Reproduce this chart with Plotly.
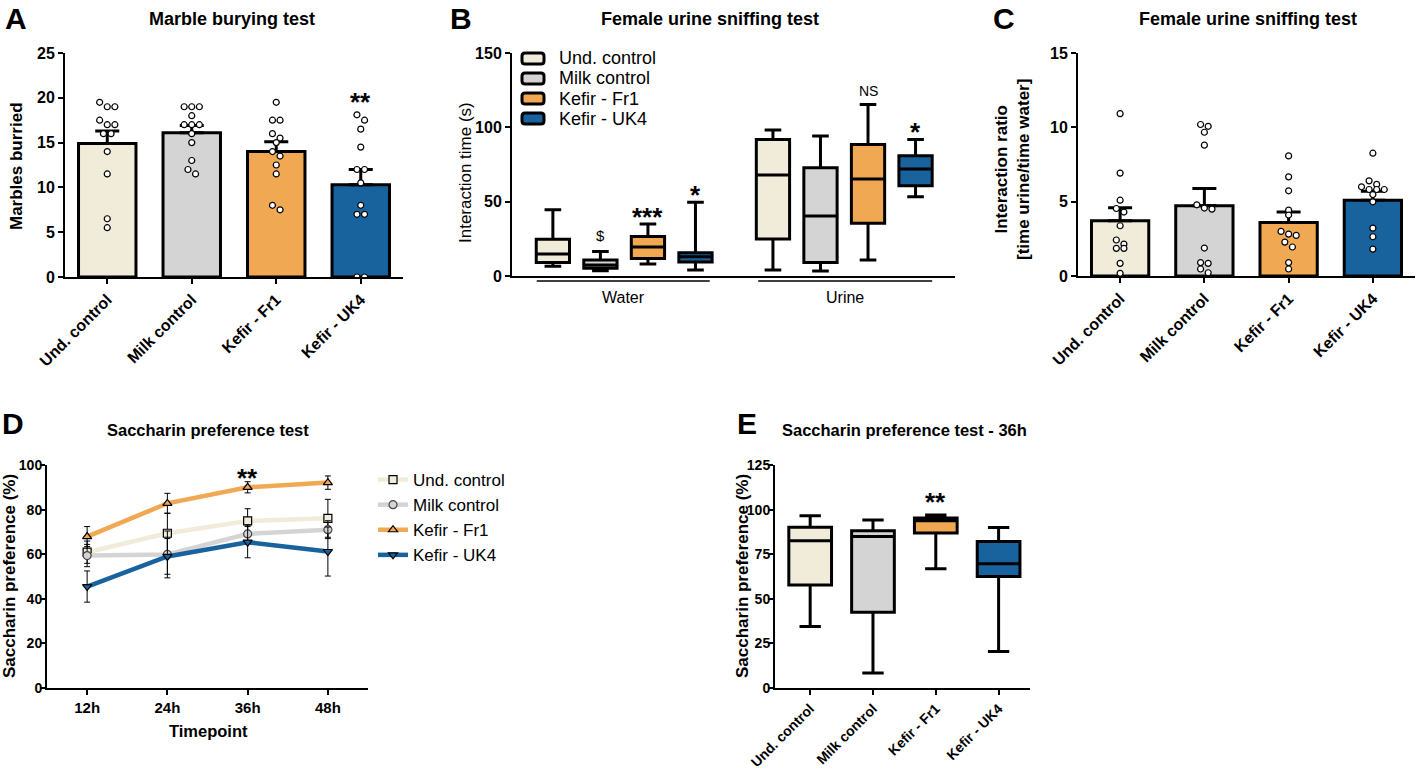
import plotly.graph_objects as go

W, H = 1418, 777

# ---------------- data ----------------
groups = ["Und. control", "Milk control", "Kefir - Fr1", "Kefir - UK4"]

# Panel A - marble burying (individual animals, mean, SEM)
marbles_und = [19.5, 19, 19, 17.5, 17, 17, 16, 16, 14, 11.5, 6.5, 5.5]
marbles_milk = [19, 19, 19, 18, 17, 17, 17, 16, 15, 13, 12, 11.5]
marbles_fr1 = [19.5, 17.5, 17.5, 16, 15.5, 15, 14, 13.5, 12.5, 11.5, 8, 7.5]
marbles_uk4 = [18.1, 17.5, 16.5, 14.5, 12, 12, 10.5, 8, 7, 7, 0, 0]
marbles_mean = [14.9, 16.1, 14.0, 10.3]
marbles_sem = [1.4, 0.8, 1.1, 1.7]
marbles_sig = ["", "", "", "**"]

# Panel B - interaction time (box: min, q1, median, q3, max)
water_min = [6.5, 3.6, 8.1, 4.0]
water_q1 = [9.0, 5.2, 11.7, 9.4]
water_med = [14.8, 7.4, 19.5, 13.0]
water_q3 = [24.7, 10.8, 26.5, 15.7]
water_max = [44.5, 16.4, 35.0, 49.6]
water_sig = ["", "$", "***", "*"]
urine_min = [4.0, 3.4, 10.8, 53.3]
urine_q1 = [24.9, 9.0, 35.4, 60.7]
urine_med = [67.9, 40.3, 65.2, 72.0]
urine_q3 = [91.9, 72.8, 88.5, 80.9]
urine_max = [98.2, 94.1, 115.4, 91.9]
urine_sig = ["", "", "NS", "*"]

# Panel C - interaction ratio
ratio_und = [10.92, 6.92, 5.1, 4.54, 4.3, 3.38, 2.42, 2.15, 1.86, 1.86, 0.85, 0.18]
ratio_milk = [10.19, 10.07, 9.67, 8.8, 4.79, 4.57, 4.5, 1.88, 0.9, 0.85, 0.47, 0.22]
ratio_fr1 = [8.08, 6.67, 5.73, 4.43, 4.1, 3.0, 2.82, 2.73, 2.28, 1.95, 0.9, 0.47]
ratio_uk4 = [8.26, 6.4, 6.16, 6.0, 5.82, 5.82, 5.82, 5.48, 4.99, 3.22, 2.64, 1.81]
ratio_mean = [3.72, 4.72, 3.6, 5.1]
ratio_sem = [0.87, 1.17, 0.7, 0.6]

# Panel D - saccharin preference over time (mean, SEM)
timepoints = ["12h", "24h", "36h", "48h"]
sacch_und = [60.9, 69.4, 74.9, 76.1]
sacch_und_sem = [5.0, 9.0, 5.5, 8.5]
sacch_milk = [59.4, 59.9, 69.1, 71.0]
sacch_milk_sem = [5.0, 10.5, 4.0, 4.0]
sacch_fr1 = [67.9, 82.8, 90.0, 92.1]
sacch_fr1_sem = [4.5, 4.5, 2.5, 3.0]
sacch_uk4 = [45.5, 59.0, 65.4, 61.2]
sacch_uk4_sem = [7.0, 8.0, 7.0, 11.0]
sacch_fr1_sig = ["", "", "**", ""]

# Panel E - saccharin preference at 36h (box)
s36_min = [34.5, 8.4, 66.8, 20.5]
s36_q1 = [57.8, 42.5, 86.9, 62.5]
s36_med = [82.5, 84.9, 93.7, 69.6]
s36_q3 = [90.1, 88.2, 95.3, 82.1]
s36_max = [96.5, 94.2, 97.0, 89.9]
s36_sig = ["", "", "**", ""]

# ---------------- style ----------------
colors = ["#F1EBDA", "#D4D4D4", "#F0A852", "#18639E"]
line_colors = ["#F1EBDA", "#D4D4D4", "#F0A852", "#18639E"]
symbols = ["square", "circle", "triangle-up", "triangle-down"]
FONT = "Arial, Liberation Sans, sans-serif"


def px_x(p):
    return p / W


def px_y(p):
    return 1 - p / H


def spread(vals, thr, step):
    order = sorted(range(len(vals)), key=lambda i: -vals[i])
    clusters = []
    for i in order:
        if clusters and abs(vals[clusters[-1][0]] - vals[i]) <= thr:
            clusters[-1].append(i)
        else:
            clusters.append([i])
    offs = [0.0] * len(vals)
    for c in clusters:
        n = len(c)
        for k, i in enumerate(c):
            offs[i] = (k - (n - 1) / 2) * step
    return offs


fig = go.Figure()

# ---------- Panel A ----------
fig.add_trace(go.Bar(
    x=list(range(4)), y=marbles_mean, width=0.68,
    marker=dict(color=colors, line=dict(color="black", width=3)),
    error_y=dict(type="data", array=marbles_sem, arrayminus=[0] * 4, symmetric=False,
                 color="black", thickness=3, width=12),
    xaxis="x", yaxis="y", showlegend=False, hoverinfo="skip"))
for i, vals in enumerate([marbles_und, marbles_milk, marbles_fr1, marbles_uk4]):
    offs = spread(vals, 0.7, 0.09)
    fig.add_trace(go.Scatter(
        x=[i + o for o in offs], y=vals, mode="markers",
        marker=dict(size=6, color="white", line=dict(color="black", width=1.2)),
        xaxis="x", yaxis="y", showlegend=False, hoverinfo="skip"))

# ---------- Panel C ----------
fig.add_trace(go.Bar(
    x=list(range(4)), y=ratio_mean, width=0.68,
    marker=dict(color=colors, line=dict(color="black", width=3)),
    error_y=dict(type="data", array=ratio_sem, arrayminus=[0] * 4, symmetric=False,
                 color="black", thickness=3, width=12),
    xaxis="x3", yaxis="y3", showlegend=False, hoverinfo="skip"))
for i, vals in enumerate([ratio_und, ratio_milk, ratio_fr1, ratio_uk4]):
    offs = spread(vals, 0.33, 0.09)
    fig.add_trace(go.Scatter(
        x=[i + o for o in offs], y=vals, mode="markers",
        marker=dict(size=6, color="white", line=dict(color="black", width=1.2)),
        xaxis="x3", yaxis="y3", showlegend=False, hoverinfo="skip"))

# ---------- Panel B ----------
water_pos = [1 + i for i in range(4)]
urine_pos = [5.63 + i for i in range(4)]
for i, g in enumerate(groups):
    for pos, mn, q1, md, q3, mx in [
        (water_pos[i], water_min, water_q1, water_med, water_q3, water_max),
        (urine_pos[i], urine_min, urine_q1, urine_med, urine_q3, urine_max)]:
        fig.add_trace(go.Box(
            x=[pos], q1=[q1[i]], median=[md[i]], q3=[q3[i]],
            lowerfence=[mn[i]], upperfence=[mx[i]], width=0.7,
            fillcolor=colors[i], line=dict(color="black", width=3), whiskerwidth=0.5,
            name=g, showlegend=False,
            xaxis="x2", yaxis="y2", boxpoints=False, hoverinfo="skip"))

# ---------- Panel D ----------
for i, (g, m, s) in enumerate(zip(groups,
                                  [sacch_und, sacch_milk, sacch_fr1, sacch_uk4],
                                  [sacch_und_sem, sacch_milk_sem, sacch_fr1_sem, sacch_uk4_sem])):
    fig.add_trace(go.Scatter(
        x=list(range(4)), y=m, mode="lines+markers", name=g,
        line=dict(color=line_colors[i], width=4.5),
        marker=dict(symbol=symbols[i], size=8, color=colors[i],
                    line=dict(color="black" if i != 1 else "#444444", width=1.2)),
        error_y=dict(type="data", array=s, color="black", thickness=1, width=3),
        xaxis="x4", yaxis="y4", showlegend=True, hoverinfo="skip"))

# ---------- Panel E ----------
for i, g in enumerate(groups):
    fig.add_trace(go.Box(
        x=[i], q1=[s36_q1[i]], median=[s36_med[i]], q3=[s36_q3[i]],
        lowerfence=[s36_min[i]], upperfence=[s36_max[i]], width=0.68,
        fillcolor=colors[i], line=dict(color="black", width=3), whiskerwidth=0.5,
        name=g, showlegend=False, xaxis="x5", yaxis="y5", boxpoints=False, hoverinfo="skip"))


# ---------------- axes ----------------
def axis(dom, rng, anchor, size=16, **kw):
    d = dict(domain=dom, range=rng, anchor=anchor, showline=True, linecolor="black",
             linewidth=2, ticks="outside", ticklen=5, tickwidth=2, tickcolor="black",
             showgrid=False, zeroline=False, fixedrange=True, automargin=False,
             tickfont=dict(family=FONT, size=size, color="black", weight="bold"))
    d.update(kw)
    return d


cat_kw = dict(tickmode="array", tickvals=list(range(4)), ticktext=groups, tickangle=-45)

fig.update_layout(
    xaxis=axis([px_x(65), px_x(403)], [-0.5, 3.5], "y", **cat_kw),
    yaxis=axis([px_y(277), px_y(53)], [0, 25], "x", dtick=5),
    xaxis2=axis([px_x(512), px_x(955)], [0.14, 9.46], "y2", ticks="", showticklabels=False),
    yaxis2=axis([px_y(276), px_y(53)], [0, 150], "x2", dtick=50),
    xaxis3=axis([px_x(1078), px_x(1415)], [-0.5, 3.5], "y3", **cat_kw),
    yaxis3=axis([px_y(276), px_y(53)], [0, 15], "x3", dtick=5),
    xaxis4=axis([px_x(47), px_x(368)], [-0.5, 3.5], "y4", 15, tickmode="array",
                tickvals=list(range(4)), ticktext=timepoints),
    yaxis4=axis([px_y(688), px_y(465)], [0, 100], "x4", 14, dtick=20, ticklabelstandoff=-5),
    xaxis5=axis([px_x(775), px_x(1030)], [-0.56, 3.5], "y5", 14, **cat_kw),
    yaxis5=axis([px_y(688), px_y(465)], [0, 125], "x5", 14, dtick=25, ticklabelstandoff=-5),
)

# ---------------- legend (panel D) ----------------
fig.update_layout(
    legend=dict(x=px_x(373), y=px_y(462), xanchor="left", yanchor="top",
                font=dict(family=FONT, size=17, color="black"), bgcolor="rgba(0,0,0,0)",
                tracegroupgap=0, itemwidth=30, traceorder="normal"),
)

# ---------------- text ----------------
ann = []
shapes = []


def txt(x, y, s, size, bold=True, angle=0, xa="center", ya="middle"):
    ann.append(dict(x=x, y=y, xref="paper", yref="paper", text=s, showarrow=False,
                    textangle=angle, xanchor=xa, yanchor=ya,
                    font=dict(family=FONT, size=size, color="black",
                              weight="bold" if bold else "normal")))


# panel letters
txt(px_x(3), px_y(19), "A", 30, xa="left")
txt(px_x(448), px_y(19), "B", 30, xa="left")
txt(px_x(991), px_y(19), "C", 30, xa="left")
txt(px_x(0), px_y(424), "D", 30, xa="left")
txt(px_x(735), px_y(424), "E", 30, xa="left")
# titles
txt(px_x(232), px_y(19), "Marble burying test", 18)
txt(px_x(710), px_y(19), "Female urine sniffing test", 18)
txt(px_x(1248), px_y(19), "Female urine sniffing test", 18)
txt(px_x(208), px_y(430), "Saccharin preference test", 16.5)
txt(px_x(904), px_y(430), "Saccharin preference test - 36h", 16.5)
# axis titles
txt(px_x(17), px_y(166), "Marbles burried", 17, angle=-90)
txt(px_x(466), px_y(173), "Interaction time (s)", 17, bold=False, angle=-90)
txt(px_x(1013), px_y(170), "Interaction ratio<br>[time urine/time water]", 17, angle=-90)
txt(px_x(9), px_y(576), "Saccharin preference (%)", 17, angle=-90)
txt(px_x(742), px_y(576), "Saccharin preference (%)", 17, angle=-90)
txt(px_x(208), px_y(731), "Timepoint", 16.5)
# group labels under panel B
ann.append(dict(x=(0.66 + 4.3) / 2, y=px_y(297), xref="x2", yref="paper", text="Water",
                showarrow=False, font=dict(family=FONT, size=16, color="black")))
ann.append(dict(x=(5.32 + 8.98) / 2, y=px_y(297), xref="x2", yref="paper", text="Urine",
                showarrow=False, font=dict(family=FONT, size=16, color="black")))
shapes += [
    dict(type="line", xref="x2", yref="paper", x0=0.66, x1=4.3, y0=px_y(281), y1=px_y(281),
         line=dict(color="black", width=1.5)),
    dict(type="line", xref="x2", yref="paper", x0=5.32, x1=8.98, y0=px_y(281), y1=px_y(281),
         line=dict(color="black", width=1.5)),
]


# legend of panel B (rounded swatches + labels)
def rounded(x0, y0, x1, y1, r):
    X0, X1 = px_x(x0), px_x(x1)
    Y0, Y1 = px_y(y0), px_y(y1)
    rx, ry = r / W, r / H
    return (f"M{X0 + rx},{Y0} L{X1 - rx},{Y0} Q{X1},{Y0} {X1},{Y0 - ry} "
            f"L{X1},{Y1 + ry} Q{X1},{Y1} {X1 - rx},{Y1} L{X0 + rx},{Y1} "
            f"Q{X0},{Y1} {X0},{Y1 + ry} L{X0},{Y0 - ry} Q{X0},{Y0} {X0 + rx},{Y0} Z")


for i, g in enumerate(groups):
    yc = 58.5 + 20 * i
    shapes.append(dict(type="path", xref="paper", yref="paper",
                       path=rounded(522, yc - 5.5, 544, yc + 5.5, 3),
                       fillcolor=colors[i], line=dict(color="black", width=3)))
    txt(px_x(557), px_y(yc), g, 18, bold=False, xa="left")


def sig(xref, yref, x, ytop, s, gap):
    if not s:
        return
    if "*" in s:
        size, bold, off = 26, True, 0.65 * 26
    elif s == "$":
        size, bold, off = 15, False, 0.12 * 15
    else:
        size, bold, off = 14, False, 0.25 * 14
    ann.append(dict(x=x, y=ytop, xref=xref, yref=yref, text=s, showarrow=False,
                    xanchor="center", yanchor="bottom", yshift=gap - off,
                    font=dict(family=FONT, size=size, color="black",
                              weight="bold" if bold else "normal")))


for i, vals in enumerate([marbles_und, marbles_milk, marbles_fr1, marbles_uk4]):
    sig("x", "y", i, max(vals), marbles_sig[i], 13)
for i in range(4):
    sig("x2", "y2", water_pos[i], water_max[i], water_sig[i], 7)
    sig("x2", "y2", urine_pos[i], urine_max[i], urine_sig[i], 7)
    sig("x4", "y4", i, sacch_fr1[i] + sacch_fr1_sem[i], sacch_fr1_sig[i], 4)
    sig("x5", "y5", i, s36_max[i], s36_sig[i], 13)

fig.update_layout(
    width=W, height=H, autosize=False,
    margin=dict(l=0, r=0, t=0, b=0, pad=0, autoexpand=False),
    paper_bgcolor="white", plot_bgcolor="white", boxmode="overlay", barmode="overlay",
    annotations=ann, shapes=shapes, font=dict(family=FONT, color="black"),
)

# the page body has a default 8px margin; remove it so the figure fills the window
fig.write_html("out.html", config={"displayModeBar": False},
               post_script="document.body.style.margin='0px';")
